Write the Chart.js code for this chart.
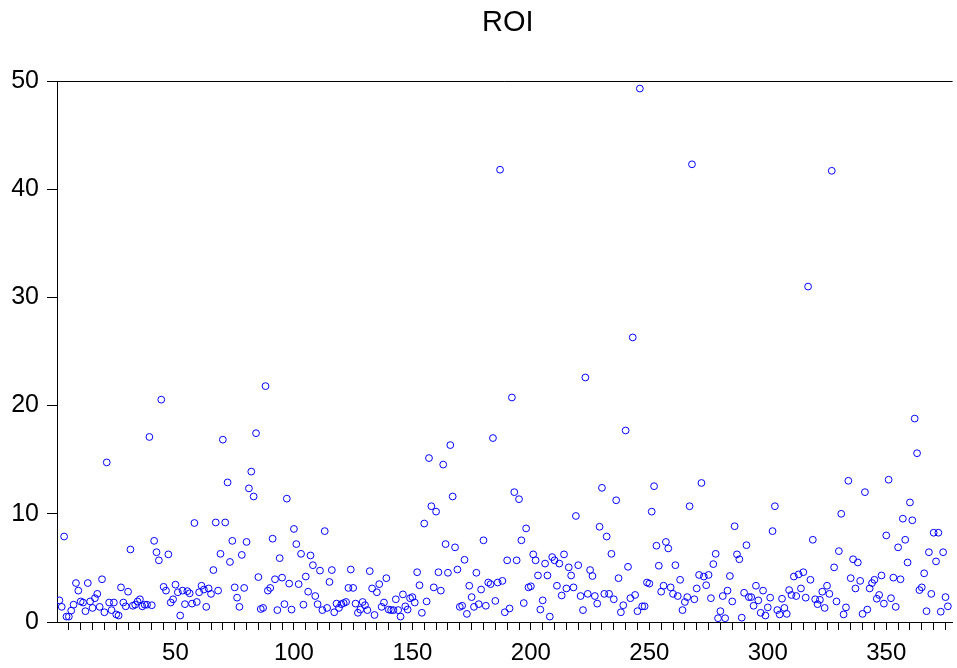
<!DOCTYPE html>
<html>
<head>
<meta charset="utf-8">
<script src="https://cdn.jsdelivr.net/npm/chart.js@4/dist/chart.umd.min.js"></script>
<style>
  html, body { margin: 0; padding: 0; background: #ffffff; }
  #wrap { width: 957px; height: 668px; }
</style>
</head>
<body>
<div id="wrap"><canvas id="c" width="957" height="668"></canvas></div>
<script>
const chartTitle = "ROI";
const roiValues = [
  2.0,1.4,7.9,0.5,0.5,1.05,1.6,3.6,2.9,1.9,
  1.8,1.0,3.6,1.9,1.3,2.2,2.6,1.4,3.95,0.9,
  14.75,1.8,1.1,1.8,0.7,0.6,3.2,1.8,1.45,2.8,
  6.7,1.5,1.6,1.9,2.1,1.45,1.6,1.6,17.1,1.55,
  7.5,6.45,5.7,20.55,3.25,2.9,6.25,1.8,2.1,3.45,
  2.75,0.6,2.9,1.65,2.85,2.65,1.7,9.15,1.85,2.75,
  3.35,3.0,1.4,3.1,2.6,4.8,9.2,2.9,6.3,16.85,
  9.2,12.9,5.55,7.5,3.2,2.25,1.4,6.2,3.15,7.4,
  12.35,13.9,11.6,17.45,4.15,1.2,1.3,21.8,2.9,3.15,
  7.7,3.95,1.1,5.9,4.1,1.65,11.4,3.55,1.15,8.6,
  7.2,3.5,6.3,1.6,4.2,2.8,6.15,5.25,2.4,1.65,
  4.75,1.1,8.4,1.3,3.7,4.8,0.9,1.7,1.3,1.65,
  1.75,1.85,3.15,4.85,3.15,1.7,0.85,1.15,1.85,1.55,
  1.1,4.7,3.1,0.65,2.75,3.5,1.4,1.8,4.05,1.15,
  1.1,1.1,2.1,1.1,0.5,2.55,1.45,1.15,2.2,2.3,
  1.8,4.6,3.4,0.85,9.1,1.9,15.15,10.7,3.2,10.2,
  4.6,2.9,14.55,7.2,4.55,16.35,11.6,6.9,4.85,1.4,
  1.5,5.75,0.75,3.35,2.3,1.4,4.55,1.65,3.0,7.55,
  1.5,3.65,3.5,17.0,1.95,3.65,41.8,3.8,0.9,5.7,
  1.25,20.75,12.0,5.7,11.35,7.55,1.75,8.65,3.2,3.3,
  6.25,5.7,4.3,1.15,2.0,5.4,4.3,0.5,6.0,5.7,
  3.35,5.4,2.45,6.25,3.1,5.05,4.3,3.2,9.8,5.25,
  2.4,1.1,22.6,2.6,4.8,4.25,2.4,1.7,8.8,12.4,
  2.6,7.9,2.6,6.3,2.1,11.25,4.05,0.9,1.55,17.7,
  5.1,2.2,26.3,2.5,1.0,49.3,1.45,1.45,3.65,3.55,
  10.2,12.55,7.05,5.2,2.8,3.35,7.4,6.8,3.2,2.6,
  5.25,2.4,3.9,1.1,1.85,2.3,10.7,42.3,2.1,3.1,
  4.35,12.85,4.2,3.4,4.35,2.2,5.35,6.3,0.35,1.0,
  2.4,0.35,2.9,4.25,1.9,8.85,6.25,5.8,0.4,2.7,
  7.1,2.3,2.3,1.5,3.35,2.0,0.85,2.9,0.6,1.35,
  2.25,8.4,10.7,1.1,0.7,2.15,1.3,0.75,2.95,2.5,
  4.2,2.4,4.4,3.1,4.6,2.25,31.0,3.9,7.6,2.1,
  1.65,2.05,2.8,1.3,3.35,2.6,41.7,5.05,1.9,6.55,
  10.0,0.7,1.35,13.05,4.05,5.8,3.1,5.5,3.8,0.75,
  12.0,1.15,3.1,3.6,3.9,2.15,2.5,4.3,1.7,8.0,
  13.15,2.2,4.1,1.4,6.9,3.95,9.55,7.6,5.5,11.05,
  9.4,18.8,15.6,2.95,3.2,4.5,1.0,6.45,2.6,8.25,
  5.6,8.25,0.95,6.45,2.3,1.45
];
// observation numbers (categories)
const observations = roiValues.map((v, i) => i + 1);
const xTickLabels = [50, 100, 150, 200, 250, 300, 350];
const yTickLabels = [0, 10, 20, 30, 40, 50];

const points = observations.map((o, i) => ({ x: o, y: roiValues[i] }));

const FONT = '"Liberation Sans", Arial, Helvetica, sans-serif';

const framePlugin = {
  id: 'frame',
  afterDraw(chart) {
    const { ctx, chartArea } = chart;
    ctx.save();
    ctx.strokeStyle = '#000';
    ctx.lineWidth = 1;
    ctx.beginPath();
    ctx.moveTo(chartArea.left, Math.round(chartArea.top) + 0.5);
    ctx.lineTo(chartArea.right, Math.round(chartArea.top) + 0.5);
    ctx.stroke();
    ctx.fillStyle = '#000';
    ctx.font = '29px ' + FONT;
    ctx.textAlign = 'center';
    ctx.textBaseline = 'middle';
    ctx.fillText(chartTitle, (chartArea.left + chartArea.right) / 2 + 3, 23);
    ctx.restore();
  }
};

new Chart(document.getElementById('c'), {
  type: 'scatter',
  data: {
    datasets: [{
      label: chartTitle,
      data: points,
      showLine: false,
      pointStyle: 'circle',
      pointRadius: 3.4,
      pointHoverRadius: 3.4,
      pointBorderWidth: 1,
      borderColor: '#0000ff',
      pointBorderColor: '#0000ff',
      pointBackgroundColor: 'rgba(0,0,0,0)',
      backgroundColor: 'rgba(0,0,0,0)'
    }]
  },
  options: {
    responsive: false,
    animation: false,
    devicePixelRatio: 1,
    layout: { padding: { top: 81, left: 0, right: 0, bottom: 0 } },
    plugins: {
      legend: { display: false },
      title: { display: false },
      tooltip: { enabled: false }
    },
    scales: {
      x: {
        type: 'linear',
        min: 0,
        max: 378,
        border: { display: true, color: '#000', width: 1 },
        grid: {
          drawOnChartArea: false,
          drawTicks: true,
          tickLength: 8,
          color: '#000',
          lineWidth: 1
        },
        afterBuildTicks(scale) {
          const t = [];
          for (let v = 5; v <= 375; v += 5) t.push({ value: v });
          scale.ticks = t;
        },
        ticks: {
          autoSkip: false,
          maxRotation: 0,
          padding: 9,
          color: '#000',
          font: { size: 24, family: FONT },
          callback: (v) => xTickLabels.includes(v) ? String(v) : ''
        },
        afterFit(scale) { scale.height = 46; }
      },
      y: {
        type: 'linear',
        min: 0,
        max: 50,
        border: { display: true, color: '#000', width: 1 },
        grid: {
          drawOnChartArea: false,
          drawTicks: true,
          tickLength: 10,
          color: '#000',
          lineWidth: 1
        },
        afterBuildTicks(scale) {
          scale.ticks = yTickLabels.map(v => ({ value: v }));
        },
        ticks: {
          padding: 8,
          color: '#000',
          font: { size: 25, family: FONT },
          callback: (v) => String(v)
        },
        afterFit(scale) { scale.width = 57; }
      }
    }
  },
  plugins: [framePlugin]
});
</script>
</body>
</html>
